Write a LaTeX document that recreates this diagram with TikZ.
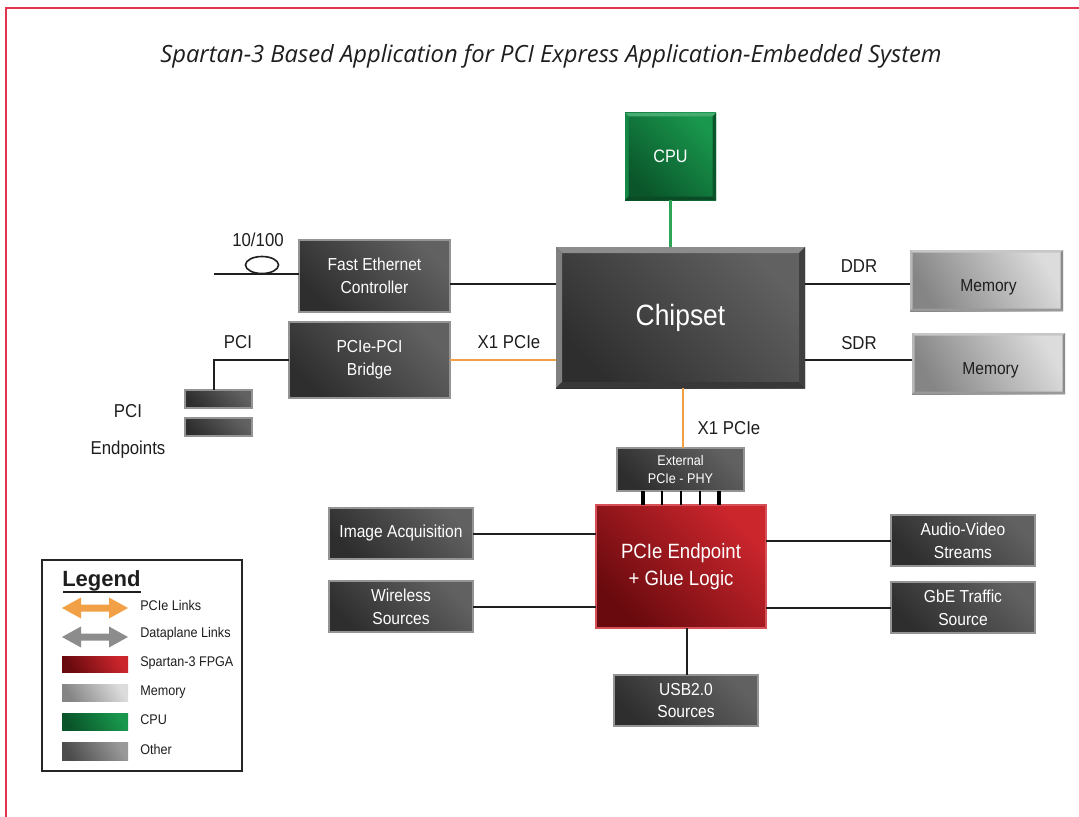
\documentclass[tikz,border=0pt]{standalone}
\usepackage{fontspec}
\setmainfont{Liberation Sans}
\newfontfamily\cond[FakeStretch=0.9]{Liberation Sans}
\newfontfamily\titlef{Open Sans}
\usetikzlibrary{calc}
\definecolor{dkA}{HTML}{2E2E2E}
\definecolor{dkB}{HTML}{616161}
\definecolor{rdA}{HTML}{680A0E}
\definecolor{rdB}{HTML}{CC262D}
\definecolor{gnA}{HTML}{0A552A}
\definecolor{gnB}{HTML}{19974D}
\definecolor{mmA}{HTML}{858585}
\definecolor{mmB}{HTML}{DCDCDC}
\definecolor{pcie}{HTML}{F2A046}
\definecolor{cpul}{HTML}{2DA65A}
\definecolor{framec}{HTML}{E1344F}
\definecolor{txt}{HTML}{1E1E1E}
\newcommand\blk[7]{\node[#2, minimum width={(#5-#3)*0.75pt}, minimum height={(#6-#4)*0.75pt}] (#1) at ({(#3+#5)/2},{(#4+#6)/2}) {#7};}
\newcommand\bevel[6]{%
 \fill[#3] (#1.north west) -- (#1.north east) -- ($(#1.north east)+(-#2,#2)$) -- ($(#1.north west)+(#2,#2)$) -- cycle;
 \fill[#4] (#1.north west) -- ($(#1.north west)+(#2,#2)$) -- ($(#1.south west)+(#2,-#2)$) -- (#1.south west) -- cycle;
 \fill[#5] (#1.south west) -- (#1.south east) -- ($(#1.south east)+(-#2,-#2)$) -- ($(#1.south west)+(#2,-#2)$) -- cycle;
 \fill[#6] (#1.north east) -- (#1.south east) -- ($(#1.south east)+(-#2,-#2)$) -- ($(#1.north east)+(-#2,#2)$) -- cycle;}
\newcommand\dblarr[2]{%
 \fill[#2] (62,#1) -- (81,{#1-10.5}) -- (81,{#1-3.5}) -- (109,{#1-3.5}) -- (109,{#1-10.5}) -- (128,#1) -- (109,{#1+10.5}) -- (109,{#1+3.5}) -- (81,{#1+3.5}) -- (81,{#1+10.5}) -- cycle;}
\tikzset{
 box/.style={inner sep=0pt, outer sep=0pt, align=center, text=white, font=\cond\fontsize{13}{17}\selectfont},
 dark/.style={box, top color=dkB, bottom color=dkA, shading angle=-45, draw=black!42, line width=1.3pt},
 red/.style={box, top color=rdB, bottom color=rdA, shading angle=-45, draw=rdB!80!white, line width=0.8pt},
 green/.style={box, top color=gnB, bottom color=gnA, shading angle=-45},
 mem/.style={box, top color=mmB, bottom color=mmA, shading angle=-60, text=txt},
 conn/.style={line width=1.5pt, black!88},
 plink/.style={line width=2.2pt, pcie},
 clink/.style={line width=2.2pt, cpul},
 lbl/.style={inner sep=0pt, text=txt, font=\cond\fontsize{14}{16}\selectfont},
 leg/.style={inner sep=0pt, anchor=west, text=txt, font=\cond\fontsize{10.5}{12}\selectfont},
}
\begin{document}
\begin{tikzpicture}[x=0.75pt, y=-0.75pt]
\useasboundingbox (0,0) rectangle (1079,817);
\fill[white] (0,0) rectangle (1079,817);
\draw[framec, line width=2.2pt] (6,817) -- (6,8) -- (1079,8);

\node[inner sep=0pt, text=txt, font=\titlef\itshape\fontsize{17.8}{20}\selectfont] (title) at (551,56) {Spartan-3 Based Application for PCI Express Application-Embedded System};

% boxes
\blk{cpu}{green, font=\cond\fontsize{13.5}{16}\selectfont}{625}{113}{716}{200}{CPU}
\bevel{cpu}{3.5}{gnB!80!white}{gnB!90!black}{gnA!90!black}{gnA}
\blk{chip}{box, top color=dkB, bottom color=dkA, shading angle=-45, font=\cond\fontsize{22}{26}\selectfont}{556}{247}{805}{388}{Chipset}
\bevel{chip}{6}{black!45}{black!50}{black!78}{black!75}
\blk{fec}{dark}{299}{240}{450}{312}{Fast Ethernet\\Controller}
\blk{brg}{dark}{289}{322}{450}{398}{PCIe-PCI\\Bridge}
\blk{pci1}{dark, line width=0.8pt}{185}{390}{252}{408}{}
\blk{pci2}{dark, line width=0.8pt}{185}{418}{252}{436}{}
\blk{mem1}{mem}{910}{250}{1063}{311}{\hspace*{3pt}\raisebox{-8pt}[0pt][0pt]{Memory}}
\bevel{mem1}{2.5}{black!22}{black!28}{black!40}{black!45}
\blk{mem2}{mem}{912}{333}{1065}{394}{\hspace*{3pt}\raisebox{-8pt}[0pt][0pt]{Memory}}
\bevel{mem2}{2.5}{black!22}{black!28}{black!40}{black!45}
\blk{phy}{dark, font=\cond\fontsize{10.5}{14}\selectfont}{617}{448}{744}{491}{External\\PCIe - PHY}
\blk{ep}{red, font=\cond\fontsize{15.5}{20}\selectfont}{596}{505}{766}{628}{PCIe Endpoint\\+ Glue Logic}
\blk{img}{dark}{329}{508}{473}{559}{Image Acquisition}
\blk{wls}{dark}{329}{581}{473}{632}{Wireless\\Sources}
\blk{av}{dark}{891}{515}{1035}{566}{Audio-Video\\Streams}
\blk{gbe}{dark}{891}{582}{1035}{633}{GbE Traffic\\Source}
\blk{usb}{dark}{614}{675}{758}{726}{USB2.0\\Sources}

% connectors
\draw[clink] (cpu.south) -- (chip.north -| cpu.south);
\coordinate (ethin) at (214,274);
\draw[conn] (ethin) -- (ethin -| fec.west);
\draw[line width=1.2pt, black!88] (262,265) ellipse [x radius=16.5, y radius=8.5];
\node[lbl] (l100) at (258,240) {10/100};
\coordinate (fecr) at (450,284);
\draw[conn] (fecr) -- (fecr -| chip.west);
\coordinate (brgr) at (450,360);
\draw[plink] (brgr) -- (brgr -| chip.west);
\node[lbl] (lx1a) at (509,342) {X1 PCIe};
\coordinate (brgl) at (289,360);
\draw[conn] (brgl) -| (pci1.north -| 214,0);
\node[lbl] (lpci) at (238,342) {PCI};
\node[lbl] (lpcie1) at (128,411) {PCI};
\node[lbl] (lpcie2) at (128,450) {Endpoints};
\coordinate (ddr) at (805,284);
\draw[conn] (ddr) -- (ddr -| mem1.west);
\node[lbl] (lddr) at (859,266) {DDR};
\coordinate (sdr) at (805,360);
\draw[conn] (sdr) -- (sdr -| mem2.west);
\node[lbl] (lsdr) at (859,343) {SDR};
\draw[plink] (chip.south -| 683,0) -- (phy.north -| 683,0);
\node[lbl] (lx1b) at (729,428) {X1 PCIe};
\foreach \xx/\ww in {643/3.2, 662/1.6, 681/1.6, 700/1.6, 719/3.2}
  \draw[line width=\ww pt, black] (phy.south -| \xx,0) -- (ep.north -| \xx,0);
\draw[conn] (img.east) -- (img.east -| ep.west);
\draw[conn] (wls.east) -- (wls.east -| ep.west);
\draw[conn] (av.west -| ep.east) -- (av.west);
\draw[conn] (gbe.west -| ep.east) -- (gbe.west);
\draw[conn] (ep.south -| 687,0) -- (usb.north -| 687,0);

% legend
\draw[line width=1pt, black!85] (42,560) rectangle (242,771);
\node[inner sep=0pt, anchor=west, text=txt, font=\bfseries\fontsize{16.5}{18}\selectfont] (legt) at (62,581) {Legend};
\draw[line width=1.1pt, txt] (63,592) -- (141,592);
\dblarr{608}{pcie}
\dblarr{637}{black!45}
\shade[top color=rdB, bottom color=rdA, shading angle=-60] (62,656) rectangle (128,672);
\shade[top color=mmB, bottom color=mmA, shading angle=-60] (62,684) rectangle (128,701);
\shade[top color=gnB, bottom color=gnA, shading angle=-60] (62,713) rectangle (128,730);
\shade[top color=black!40, bottom color=black!70, shading angle=-60] (62,742) rectangle (128,760);
\node[leg] (lg1) at (140,605) {PCIe Links};
\node[leg] (lg2) at (140,634) {Dataplane Links};
\node[leg] (lg3) at (140,663) {Spartan-3 FPGA};
\node[leg] (lg4) at (140,692) {Memory};
\node[leg] (lg5) at (140,720) {CPU};
\node[leg] (lg6) at (140,749) {Other};
\end{tikzpicture}
\end{document}
